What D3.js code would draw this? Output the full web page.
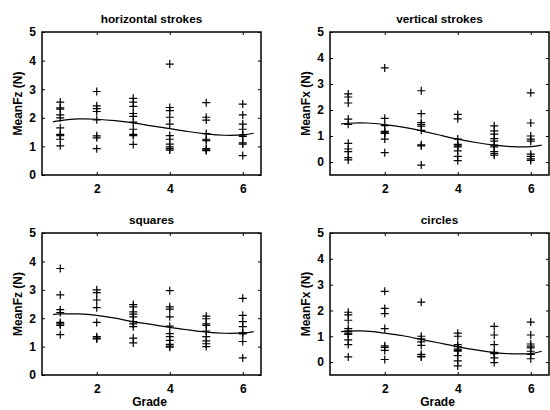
<!DOCTYPE html>
<html>
<head>
<meta charset="utf-8">
<script src="https://cdn.jsdelivr.net/npm/d3@7"></script>
<style>
  body { margin: 0; background: #fff; }
  svg { display: block; }
  text { font-family: "Liberation Sans", Arial, sans-serif; font-weight: bold; fill: #000; }
</style>
</head>
<body>
<svg id="chart" width="550" height="410"></svg>
<script>
// grades on the x axis
var grades = [1, 2, 3, 4, 5, 6];
var xTicks = [2, 4, 6];

// per-grade measurements, one inner array per grade
var horizFz = [
  [2.55, 2.35, 2.3, 2.1, 2.0, 1.65, 1.42, 1.38, 1.25, 1.02],
  [2.92, 2.42, 2.32, 2.22, 1.93, 1.37, 1.3, 0.92],
  [2.68, 2.55, 2.4, 2.15, 2.05, 1.85, 1.6, 1.42, 1.38, 1.07],
  [3.88, 2.36, 2.25, 2.02, 1.78, 1.38, 1.25, 1.08, 0.98, 0.92, 0.87],
  [2.53, 2.02, 1.92, 1.45, 1.25, 1.2, 0.92, 0.88, 0.85],
  [2.48, 2.1, 1.78, 1.6, 1.4, 1.35, 1.12, 1.08, 0.68]
];
var vertFx = [
  [2.62, 2.5, 2.27, 1.65, 1.45, 0.72, 0.5, 0.4, 0.17, 0.08],
  [3.62, 1.68, 1.4, 1.18, 1.12, 1.1, 0.88, 0.36],
  [2.74, 1.86, 1.52, 1.45, 1.38, 1.22, 0.66, 0.62, -0.12],
  [1.83, 1.66, 0.88, 0.68, 0.62, 0.58, 0.43, 0.22, 0.05],
  [1.39, 1.2, 1.07, 0.9, 0.8, 0.65, 0.58, 0.4, 0.32, 0.26],
  [2.66, 1.5, 1.0, 0.88, 0.8, 0.3, 0.22, 0.12, 0.06]
];
var squaresFz = [
  [3.75, 2.82, 2.3, 2.2, 1.85, 1.8, 1.75, 1.42],
  [3.0, 2.9, 2.64, 2.37, 1.85, 1.35, 1.3, 1.27],
  [2.48, 2.4, 2.22, 2.14, 2.05, 1.88, 1.8, 1.7, 1.3, 1.13],
  [2.97, 2.4, 2.32, 2.05, 1.72, 1.46, 1.35, 1.22, 1.08, 1.02, 0.98],
  [2.07, 1.98, 1.8, 1.75, 1.55, 1.35, 1.2, 1.1, 1.0],
  [2.7, 2.1, 1.88, 1.7, 1.48, 1.45, 1.18, 0.6]
];
var circlesFx = [
  [1.93, 1.83, 1.62, 1.3, 1.2, 1.12, 1.07, 0.86, 0.68, 0.2],
  [2.74, 2.08, 1.88, 1.3, 0.63, 0.57, 0.45, 0.1],
  [2.32, 1.0, 0.9, 0.78, 0.65, 0.3, 0.22, 0.2],
  [1.12, 1.0, 0.68, 0.6, 0.5, 0.45, 0.42, 0.25, 0.05, -0.15],
  [1.38, 1.05, 0.68, 0.38, 0.33, 0.16, -0.02],
  [1.55, 1.05, 0.7, 0.62, 0.55, 0.42, 0.3, 0.13]
];

var fitX = [0.8, 1, 1.5, 2, 2.5, 3, 3.5, 4, 4.5, 5, 5.5, 6, 6.3];
var horizFit   = [1.86, 1.9, 1.96, 1.95, 1.9, 1.82, 1.72, 1.62, 1.52, 1.44, 1.39, 1.40, 1.46];
var vertFit    = [1.46, 1.49, 1.5, 1.44, 1.34, 1.2, 1.04, 0.88, 0.75, 0.65, 0.59, 0.59, 0.65];
var squaresFit = [2.13, 2.15, 2.15, 2.1, 2.0, 1.88, 1.78, 1.68, 1.59, 1.51, 1.47, 1.48, 1.53];
var circlesFit = [1.18, 1.2, 1.2, 1.12, 1.02, 0.88, 0.74, 0.6, 0.47, 0.37, 0.32, 0.33, 0.42];

var panels = [
  {title: "horizontal strokes", ylab: "MeanFz (N)", data: horizFz, fit: horizFit,
   yDom: [0, 5], yTicks: [0, 1, 2, 3, 4, 5], x0: 42, x1: 261, y0: 32, y1: 175, xlab: false},
  {title: "vertical strokes", ylab: "MeanFx (N)", data: vertFx, fit: vertFit,
   yDom: [-0.5, 5], yTicks: [0, 1, 2, 3, 4, 5], x0: 330, x1: 549, y0: 32, y1: 175, xlab: false},
  {title: "squares", ylab: "MeanFz (N)", data: squaresFz, fit: squaresFit,
   yDom: [0, 5], yTicks: [0, 1, 2, 3, 4, 5], x0: 42, x1: 261, y0: 233, y1: 375, xlab: true},
  {title: "circles", ylab: "MeanFx (N)", data: circlesFx, fit: circlesFit,
   yDom: [-0.5, 5], yTicks: [0, 1, 2, 3, 4, 5], x0: 330, x1: 549, y0: 233, y1: 375, xlab: true}
];

var svg = d3.select("#chart");
var fmt = d3.format("d");

panels.forEach(function(p) {
  var x = d3.scaleLinear().domain([0.5, 6.5]).range([p.x0, p.x1]);
  var y = d3.scaleLinear().domain(p.yDom).range([p.y1, p.y0]);
  var g = svg.append("g");

  // inward ticks on every side, matlab style
  g.append("g").attr("transform", "translate(0," + p.y1 + ")")
    .call(d3.axisBottom(x).tickValues(xTicks).tickFormat(fmt).tickSizeInner(-3).tickSizeOuter(0).tickPadding(9.5));
  g.append("g").attr("transform", "translate(0," + p.y0 + ")")
    .call(d3.axisTop(x).tickValues(xTicks).tickSizeInner(-3).tickSizeOuter(0).tickFormat(""));
  g.append("g").attr("transform", "translate(" + p.x0 + ",0)")
    .call(d3.axisLeft(y).tickValues(p.yTicks).tickFormat(fmt).tickSizeInner(-3).tickSizeOuter(0).tickPadding(6));
  g.append("g").attr("transform", "translate(" + p.x1 + ",0)")
    .call(d3.axisRight(y).tickValues(p.yTicks).tickSizeInner(-3).tickSizeOuter(0).tickFormat(""));

  g.selectAll(".domain").remove();
  g.selectAll(".tick line").attr("stroke", "#000").attr("stroke-width", 1);
  g.selectAll(".tick text").style("font-size", "12px").style("font-family", "Liberation Sans, Arial, sans-serif")
    .style("font-weight", "bold").attr("fill", "#000");

  g.append("rect")
    .attr("x", p.x0).attr("y", p.y0)
    .attr("width", p.x1 - p.x0).attr("height", p.y1 - p.y0)
    .attr("fill", "none").attr("stroke", "#000").attr("stroke-width", 1.5);

  // plus markers
  var pts = [];
  p.data.forEach(function(vals, i) {
    vals.forEach(function(v) { pts.push([grades[i], v]); });
  });
  g.selectAll("path.pt").data(pts).enter().append("path")
    .attr("class", "pt")
    .attr("d", "M-4,0H4M0,-4V4")
    .attr("transform", function(d) { return "translate(" + x(d[0]) + "," + y(d[1]) + ")"; })
    .attr("stroke", "#000").attr("stroke-width", 1.2).attr("fill", "none");

  // trend line
  var line = d3.line()
    .x(function(d, i) { return x(fitX[i]); })
    .y(function(d) { return y(d); })
    .curve(d3.curveNatural);
  g.append("path").datum(p.fit).attr("d", line)
    .attr("fill", "none").attr("stroke", "#000").attr("stroke-width", 1.2);

  // titles and labels
  var cx = (p.x0 + p.x1) / 2;
  g.append("text").attr("x", cx).attr("y", p.y0 - 9)
    .attr("text-anchor", "middle").style("font-size", "11.8px").text(p.title);
  g.append("text")
    .attr("transform", "translate(" + (p.x0 - 20) + "," + ((p.y0 + p.y1) / 2) + ") rotate(-90)")
    .attr("text-anchor", "middle").style("font-size", "12px").text(p.ylab);
  if (p.xlab) {
    g.append("text").attr("x", cx - 2).attr("y", p.y1 + 31)
      .attr("text-anchor", "middle").style("font-size", "12px").text("Grade");
  }
});
</script>
</body>
</html>
